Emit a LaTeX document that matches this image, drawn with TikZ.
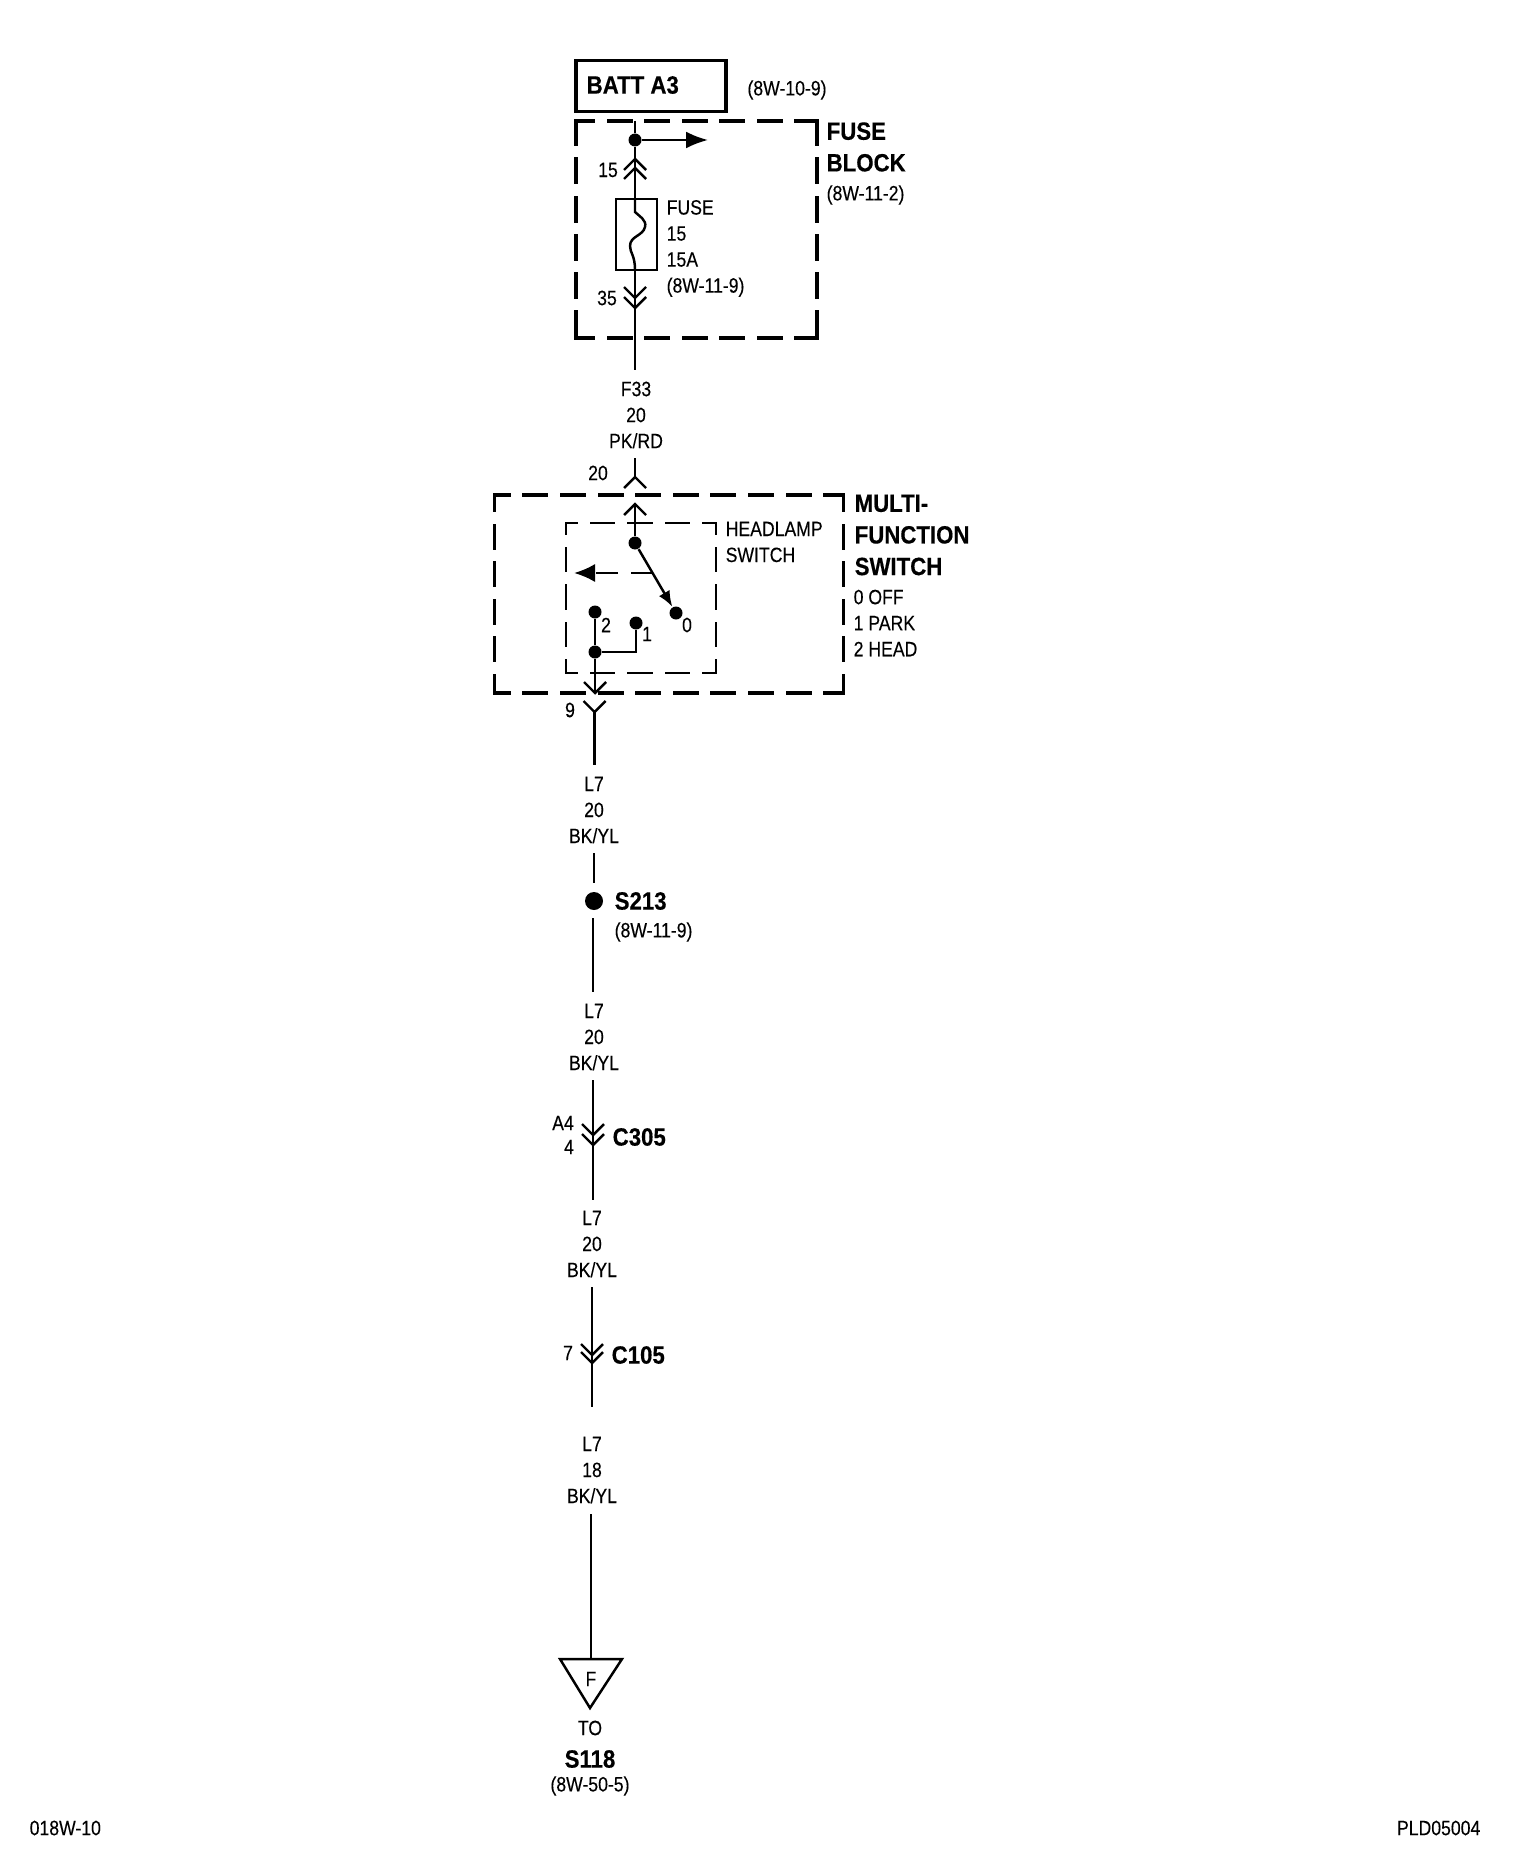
\documentclass[tikz,border=0pt]{standalone}
\usepackage{fontspec}
\setmainfont[FakeStretch=0.85,FakeBold=0.2,BoldFeatures={FakeStretch=0.89,FakeBold=0.4}]{Liberation Sans}
\usetikzlibrary{arrows.meta}
\tikzset{
	lbl/.style={inner sep=0pt, align=center, font=\fontsize{5.9}{7.4}\selectfont},
	lblleft/.style={lbl, anchor=west, align=left},
	bold/.style={inner sep=0pt, anchor=west, align=left, font=\fontsize{7.1}{9}\selectfont\bfseries},
	wire/.style={line width=0.7pt},
	dot/.style={circle, fill=black, inner sep=0pt, minimum size=0.13cm},
	boxframe/.style={inner sep=0pt, outer sep=0pt},
	heavyside/.style={line width=1pt, line cap=rect},
	thinside/.style={line width=0.6pt, line cap=rect, dash pattern=on 0.23cm off 0.145cm, dash phase=0.125cm},
	pics/chevup/.style={code={\draw[wire] (-0.11,-0.11) -- (0,0) -- (0.11,-0.11);}},
	pics/chevdown/.style={code={\draw[wire] (-0.11,0.11) -- (0,0) -- (0.11,0.11);}}
}
\begin{document}
\begin{tikzpicture}
		\useasboundingbox (0,0) rectangle (15.36,-18.62);
		% fuse block
		\node[draw, line width=1pt, minimum width=1.50cm, minimum height=0.51cm, inner sep=0pt] (batt) at (6.51,-0.86) {};
		\node[bold] (batttext) at (5.86,-0.85) {BATT A3};
		\node[lbl] (battref) at (7.87,-0.90) {(8W-10-9)};
		\node[boxframe, minimum width=2.41cm, minimum height=2.17cm] (fuseblock) at (6.965,-2.295) {};
		\draw[heavyside, dash pattern=on 0.225cm off 0.15cm, dash phase=0.05cm] (fuseblock.north west) -- (fuseblock.north east);
		\draw[heavyside, dash pattern=on 0.225cm off 0.15cm, dash phase=0.05cm] (fuseblock.south west) -- (fuseblock.south east);
		\draw[heavyside, dash pattern=on 0.235cm off 0.147cm] (fuseblock.north west) -- (fuseblock.south west);
		\draw[heavyside, dash pattern=on 0.235cm off 0.147cm] (fuseblock.north east) -- (fuseblock.south east);
		\node[bold] (fuseblocktext) at (8.26,-1.47) {FUSE\\BLOCK};
		\node[lblleft] (fuseblockref) at (8.26,-1.95) {(8W-11-2)};
		\coordinate (blocktop) at (6.35,-1.21);
		\node[dot] (battdot) at (6.35,-1.40) {};
		\coordinate (battout) at (7.08,-1.40);
		\draw[wire] (blocktop) -- (battdot);
		\draw[wire, -{Latex[length=6.2pt,width=4.8pt]}] (battdot) -- (battout);
		\node[draw, line width=0.7pt, minimum width=0.41cm, minimum height=0.71cm, inner sep=0pt] (fuse) at (6.365,-2.345) {};
		\coordinate (fusein) at (6.35,-1.99);
		\coordinate (fuseend) at (6.35,-2.70);
		\draw[wire] (battdot) -- (fusein);
		\draw[wire] (fusein) -- ++(0,-0.13) .. controls (6.39,-2.16) and (6.47,-2.20) .. (6.45,-2.27) .. controls (6.43,-2.36) and (6.30,-2.36) .. (6.30,-2.46) .. controls (6.30,-2.53) and (6.35,-2.55) .. (fuseend);
		\pic at (6.35,-1.59) {chevup};
		\pic at (6.35,-1.68) {chevup};
		\pic at (6.35,-2.98) {chevdown};
		\pic at (6.35,-3.08) {chevdown};
		\coordinate (fuseout) at (6.35,-3.70);
		\draw[wire] (fuseend) -- (fuseout);
		\node[lbl] (pin15) at (6.08,-1.70) {15};
		\node[lbl] (pin35) at (6.07,-2.98) {35};
		\node[lblleft] (fusetext) at (6.66,-2.485) {FUSE\\15\\15A\\(8W-11-9)};
		\node[lbl] (wirefa) at (6.36,-4.15) {F33\\20\\PK/RD};
		% multi-function switch
		\coordinate (cone) at (6.35,-4.58);
		\coordinate (ctwo) at (6.35,-4.77);
		\draw[wire] (cone) -- (ctwo);
		\pic at (ctwo) {chevup};
		\node[lbl] (pin20) at (5.98,-4.73) {20};
		\node[boxframe, minimum width=3.49cm, minimum height=1.98cm] (multi) at (6.69,-5.94) {};
		\draw[heavyside, dash pattern=on 0.225cm off 0.151cm, dash phase=0.08cm] (multi.north west) -- (multi.north east);
		\draw[heavyside, dash pattern=on 0.225cm off 0.151cm, dash phase=0.08cm] (multi.south west) -- (multi.south east);
		\draw[heavyside, dash pattern=on 0.225cm off 0.15cm, dash phase=0.07cm] (multi.north west) -- (multi.south west);
		\draw[heavyside, dash pattern=on 0.225cm off 0.15cm, dash phase=0.07cm] (multi.north east) -- (multi.south east);
		\node[boxframe, minimum width=1.50cm, minimum height=1.50cm] (headlamp) at (6.41,-5.98) {};
		\draw[thinside] (headlamp.north west) -- (headlamp.north east);
		\draw[thinside] (headlamp.south west) -- (headlamp.south east);
		\draw[thinside] (headlamp.north west) -- (headlamp.south west);
		\draw[thinside] (headlamp.north east) -- (headlamp.south east);
		\node[lblleft] (headlamptext) at (7.25,-5.42) {HEADLAMP\\SWITCH};
		\node[bold] (multitext) at (8.54,-5.35) {MULTI-\\FUNCTION\\SWITCH};
		\node[lblleft] (multitext2) at (8.53,-6.23) {0 OFF\\1 PARK\\2 HEAD};
		\coordinate (ctop) at (6.35,-5.04);
		\node[dot] (swcom) at (6.35,-5.43) {};
		\node[dot] (swzero) at (6.76,-6.13) {};
		\node[dot] (swone) at (6.36,-6.23) {};
		\node[dot] (swtwo) at (5.95,-6.12) {};
		\node[dot] (swjoin) at (5.95,-6.52) {};
		\coordinate (swcorner) at (6.36,-6.52);
		\coordinate (linkstart) at (6.53,-5.73);
		\coordinate (linkend) at (5.74,-5.73);
		\coordinate (cnine) at (5.95,-6.93);
		\coordinate (ctenup) at (5.945,-7.12);
		\coordinate (wireaend) at (5.945,-7.65);
		\draw[wire] (ctop) -- (swcom);
		\pic at (ctop) {chevup};
		\draw[wire, -{Latex[length=4.5pt,width=3.5pt]}] (swcom) -- (swzero);
		\draw[wire, dash pattern=on 0.22cm off 0.13cm, -{Latex[length=6pt,width=5.2pt]}] (linkstart) -- (linkend);
		\draw[wire] (swtwo) -- (swjoin);
		\draw[wire] (swone) -- (swcorner) -- (swjoin);
		\draw[wire] (swjoin) -- (cnine);
		\pic at (cnine) {chevdown};
		\pic at (ctenup) {chevdown};
		\draw[wire] (ctenup) -- (wireaend);
		\node[lbl] (labzero) at (6.87,-6.25) {0};
		\node[lbl] (labone) at (6.47,-6.34) {1};
		\node[lbl] (labtwo) at (6.06,-6.25) {2};
		\node[lbl] (pinnine) at (5.70,-7.10) {9};
		% splice and connectors
		\node[lbl] (wireb) at (5.94,-8.10) {L7\\20\\BK/YL};
		\node[circle, fill=black, inner sep=0pt, minimum size=0.18cm] (splice) at (5.94,-9.01) {};
		\coordinate (spliceup) at (5.94,-8.53);
		\coordinate (spliceuptwo) at (5.94,-8.83);
		\coordinate (splicedowntwo) at (5.93,-9.18);
		\coordinate (splicedown) at (5.93,-9.92);
		\draw[wire] (spliceup) -- (spliceuptwo);
		\draw[wire] (splicedowntwo) -- (splicedown);
		\node[bold] (splicetext) at (6.14,-9.01) {S213};
		\node[lblleft] (spliceref) at (6.14,-9.32) {(8W-11-9)};
		\node[lbl] (wirec) at (5.94,-10.37) {L7\\20\\BK/YL};
		\coordinate (conatop) at (5.93,-10.80);
		\coordinate (conaend) at (5.93,-12.00);
		\draw[wire] (conatop) -- (conaend);
		\pic at (5.93,-11.35) {chevdown};
		\pic at (5.93,-11.45) {chevdown};
		\node[lbl] (pinaa) at (5.63,-11.23) {A4};
		\node[lbl] (pinab) at (5.69,-11.47) {4};
		\node[bold] (conatext) at (6.12,-11.37) {C305};
		\node[lbl] (wired) at (5.92,-12.44) {L7\\20\\BK/YL};
		\coordinate (conbtop) at (5.92,-12.87);
		\coordinate (conbend) at (5.92,-14.07);
		\draw[wire] (conbtop) -- (conbend);
		\pic at (5.92,-13.55) {chevdown};
		\pic at (5.92,-13.63) {chevdown};
		\node[lbl] (pinb) at (5.68,-13.53) {7};
		\node[bold] (conbtext) at (6.11,-13.55) {C105};
		\node[lbl] (wiree) at (5.92,-14.70) {L7\\18\\BK/YL};
		% off-page arrow
		\coordinate (wireeend) at (5.91,-15.14);
		\coordinate (triangleleft) at (5.60,-16.59);
		\coordinate (triangleright) at (6.22,-16.59);
		\coordinate (trianglebottom) at (5.90,-17.08);
		\coordinate (triangletop) at (5.91,-16.59);
		\draw[line width=0.8pt] (wireeend) -- (triangletop);
		\draw[line width=0.7pt] (triangleleft) -- (triangleright) -- (trianglebottom) -- cycle;
		\node[lbl] (trianglef) at (5.91,-16.79) {F};
		\node[lbl] (totext) at (5.90,-17.28) {TO};
		\node[bold, anchor=center] (torefbold) at (5.90,-17.59) {S118};
		\node[lbl] (toref) at (5.90,-17.86) {(8W-50-5)};
		% sheet numbers
		\node[lblleft] (sheetleft) at (0.29,-18.28) {018W-10};
		\node[lbl, anchor=east] (sheetright) at (14.81,-18.28) {PLD05004};
\end{tikzpicture}
\end{document}
